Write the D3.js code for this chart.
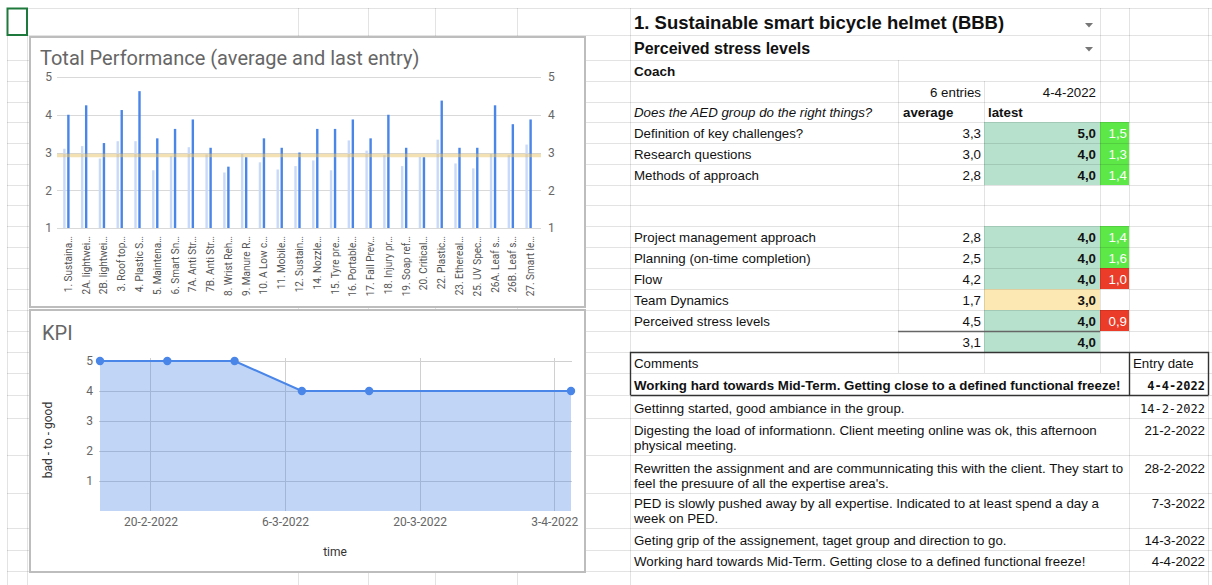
<!DOCTYPE html>
<html>
<head>
<meta charset="utf-8">
<script src="https://cdn.jsdelivr.net/npm/d3@7"></script>
<style>
  html, body { margin: 0; padding: 0; background: #fff; }
  svg { display: block; font-family: "Liberation Sans", Arial, sans-serif; }
</style>
</head>
<body>
<svg id="sheet" width="1212" height="585"></svg>
<script>
// ---------- Total performance per project ----------
const projects = [
  "1. Sustaina…", "2A. lightwei…", "2B. lightwei…", "3. Roof top…", "4. Plastic S…",
  "5. Maintena…", "6. Smart Sn…", "7A. Anti Str…", "7B. Anti Str…", "8. Wrist Reh…",
  "9. Manure R…", "10. A Low c…", "11. Mobile…", "12. Sustain…", "14. Nozzle…",
  "15. Tyre pre…", "16. Portable…", "17. Fall Prev…", "18. Injury pr…", "19. Soap ref…",
  "20. Critical…", "22. Plastic…", "23. Ethereal…", "25. UV Spec…", "26A. Leaf s…",
  "26B. Leaf s…", "27. Smart le…"
];
const averageScores = [
  3.1, 3.17, 2.84, 3.3, 3.3, 2.53, 2.9, 3.14, 2.95, 2.47,
  2.99, 2.74, 2.55, 2.64, 2.79, 2.53, 3.32, 3.05, 2.93, 2.64,
  2.88, 3.34, 2.71, 2.58, 2.97, 2.93, 3.21
];
const latestScores = [
  4.0, 4.25, 3.25, 4.125, 4.625, 3.375, 3.625, 3.875, 3.125, 2.625,
  2.875, 3.375, 3.125, 3.0, 3.625, 3.625, 3.875, 3.375, 4.0, 3.125,
  2.875, 4.375, 3.125, 3.125, 4.25, 3.75, 3.875
];
const overallAverage = 2.92;
const performanceTicks = [1, 2, 3, 4, 5];

// ---------- KPI over time ----------
const kpiDates = ["2022-02-14T18:00", "2022-02-21T18:00", "2022-02-28T18:00",
                  "2022-03-07T18:00", "2022-03-14T18:00", "2022-04-04T18:00"];
const kpiScores = [5, 5, 5, 4, 4, 4];
const kpiTickDates = ["2022-02-20", "2022-03-06", "2022-03-20", "2022-04-03"];
const kpiTicks = [1, 2, 3, 4, 5];

// ---------- Scorecard ----------
const groupTitle = "1. Sustainable smart bicycle helmet (BBB)";
const selectedCriterion = "Perceived stress levels";
const coachLabel = "Coach";
const entryCountLabel = "6 entries";
const latestDateLabel = "4-4-2022";
const questionLabel = "Does the AED group do the right things?";
const criteria = [
  "Definition of key challenges?", "Research questions", "Methods of approach",
  "Project management approach", "Planning (on-time completion)", "Flow",
  "Team Dynamics", "Perceived stress levels"
];
const criteriaAverage = [3.3, 3.0, 2.8, 2.8, 2.5, 4.2, 1.7, 4.5];
const criteriaLatest  = [5.0, 4.0, 4.0, 4.0, 4.0, 4.0, 3.0, 4.0];
const criteriaRatio   = [1.5, 1.3, 1.4, 1.4, 1.6, 1.0, null, 0.9];
const ratioTrend      = ["up", "up", "up", "up", "up", "down", null, "down"];
const totalAverage = 3.1;
const totalLatest = 4.0;

const latestComment = "Working hard towards Mid-Term. Getting close to a defined functional freeze!";
const latestCommentDate = "4-4-2022";
const commentLines = [
  ["Gettinng started, good ambiance in the group."],
  ["Digesting the load of informationn. Client meeting online was ok, this afternoon", "physical meeting."],
  ["Rewritten the assignment and are communnicating this with the client. They start to", "feel the presuure of all the expertise area's."],
  ["PED is slowly pushed away by all expertise. Indicated to at least spend a day a", "week on PED."],
  ["Geting grip of the assignement, taget group and direction to go."],
  ["Working hard towards Mid-Term. Getting close to a defined functional freeze!"]
];
const commentDates = ["14-2-2022", "21-2-2022", "28-2-2022", "7-3-2022", "14-3-2022", "4-4-2022"];

// ---------- sheet layout ----------
const rowLines = [8, 35, 60, 81, 102, 122, 143, 164, 185, 205, 226, 247, 268, 289, 310,
                  331, 352, 373, 395, 418, 455, 493, 528, 550, 571];
const colSegments = [
  [7, 8, 585], [27, 8, 585], [298, 8, 585], [368, 8, 585], [435, 8, 585], [517, 8, 585],
  [630, 8, 585], [898, 60, 373], [984, 81, 373], [1100, 8, 373], [1129, 8, 585], [1208, 8, 585]
];
const criteriaRows = [5, 6, 7, 10, 11, 12, 13, 14];
const totalRow = 15;
const commentRows = [18, 19, 20, 21, 22, 23];

const fmt1 = v => v.toFixed(1).replace(".", ",");

const svg = d3.select("#sheet");
svg.append("rect").attr("width", 1212).attr("height", 585).attr("fill", "#fff");

// cell fills
const fills = svg.append("g");
criteriaRows.forEach((r, i) => {
  const y0 = rowLines[r], y1 = rowLines[r + 1];
  fills.append("rect").attr("x", 984).attr("y", y0).attr("width", 116).attr("height", y1 - y0)
    .attr("fill", criteriaLatest[i] >= 3.5 ? "#b7e1cd" : "#fce8b2");
  if (criteriaRatio[i] !== null) {
    fills.append("rect").attr("x", 1100).attr("y", y0).attr("width", 29).attr("height", y1 - y0)
      .attr("fill", ratioTrend[i] === "up" ? "#5ee848" : "#ea3c28");
  }
});
fills.append("rect").attr("x", 984).attr("y", rowLines[totalRow]).attr("width", 116)
  .attr("height", rowLines[totalRow + 1] - rowLines[totalRow]).attr("fill", "#b7e1cd");

// gridlines
const grid = svg.append("g").attr("stroke", "#000").attr("stroke-opacity", 0.11).attr("stroke-width", 1);
rowLines.forEach(y => grid.append("line").attr("x1", 7).attr("x2", 1212)
  .attr("y1", y + 0.5).attr("y2", y + 0.5));
colSegments.forEach(([x, y0, y1]) => grid.append("line").attr("x1", x + 0.5).attr("x2", x + 0.5)
  .attr("y1", y0).attr("y2", y1));

// borders of the total row and the comments box
const borders = svg.append("g").attr("fill", "none");
borders.append("line").attr("x1", 898).attr("x2", 1100).attr("y1", 331.5).attr("y2", 331.5)
  .attr("stroke", "#666").attr("stroke-width", 1.5);
borders.append("path").attr("d", "M630.5,395 V352.5 H1208.5 V395 M1129.5,352.5 V395 M630.5,395.5 H1208.5")
  .attr("stroke", "#333").attr("stroke-width", 1.4);

// selected cell
svg.append("rect").attr("x", 7.5).attr("y", 8.5).attr("width", 19.5).attr("height", 26.5)
  .attr("fill", "none").attr("stroke", "#1e7a3c").attr("stroke-width", 2);

// ---------- scorecard text ----------
const text = svg.append("g").attr("fill", "#111").attr("font-size", 13.3);
const put = (x, y, s, o = {}) => text.append("text").attr("x", x).attr("y", y)
  .attr("text-anchor", o.anchor || "start").attr("font-weight", o.bold ? "bold" : null)
  .attr("font-style", o.italic ? "italic" : null).attr("font-size", o.size || null)
  .attr("font-family", o.family || null).attr("fill", o.fill || null).text(s);

put(634, 29, groupTitle, { bold: true, size: 18.5 });
put(634, 54, selectedCriterion, { bold: true, size: 16 });
put(634, 76, coachLabel, { bold: true, size: 13.5 });
put(981, 97, entryCountLabel, { anchor: "end" });
put(1096, 97, latestDateLabel, { anchor: "end" });
put(634, 117, questionLabel, { italic: true });
put(903, 117, "average", { bold: true });
put(988, 117, "latest", { bold: true });

// dropdown markers
[[1089, 23], [1089, 47]].forEach(([x, y]) =>
  svg.append("path").attr("d", `M${x - 4},${y} h8 l-4,4.5 z`).attr("fill", "#777"));

criteriaRows.forEach((r, i) => {
  const yb = rowLines[r + 1] - 5;
  put(634, yb, criteria[i]);
  put(981, yb, fmt1(criteriaAverage[i]), { anchor: "end" });
  put(1096, yb, fmt1(criteriaLatest[i]), { anchor: "end", bold: true });
  if (criteriaRatio[i] !== null) put(1127, yb, fmt1(criteriaRatio[i]), { anchor: "end", fill: "#fff" });
});
put(981, rowLines[totalRow + 1] - 5, fmt1(totalAverage), { anchor: "end" });
put(1096, rowLines[totalRow + 1] - 5, fmt1(totalLatest), { anchor: "end", bold: true });

put(634, 368, "Comments");
put(1133, 368, "Entry date");
put(634, 390, latestComment, { bold: true });
put(1205, 390, latestCommentDate, { anchor: "end", bold: true, size: 12, family: "DejaVu Sans Mono" });

commentRows.forEach((r, i) => {
  const lines = commentLines[i];
  const yBottom = rowLines[r + 1] - 5;
  const yFirst = yBottom - (lines.length - 1) * 15.5;
  lines.forEach((l, j) => put(634, yFirst + j * 15.5, l));
  put(1205, yFirst, commentDates[i], i === 0
    ? { anchor: "end", size: 12, family: "DejaVu Sans Mono" }
    : { anchor: "end" });
});

// ---------- chart: Total Performance ----------
const perf = svg.append("g").attr("font-family", "Roboto, sans-serif");
perf.append("rect").attr("x", 30).attr("y", 37).attr("width", 555).attr("height", 270)
  .attr("fill", "#fff").attr("stroke", "#bdbdbd").attr("stroke-width", 2);
perf.append("text").attr("x", 40).attr("y", 65).attr("font-size", 20).attr("fill", "#666")
  .text("Total Performance (average and last entry)");

const px = d3.scaleBand().domain(projects).range([57.5, 537.5]);
const py = d3.scaleLinear().domain([1, 5]).range([228, 77]);

perf.append("g").selectAll("line").data(performanceTicks).join("line")
  .attr("x1", 57).attr("x2", 541).attr("y1", d => Math.round(py(d)) + 0.5).attr("y2", d => Math.round(py(d)) + 0.5)
  .attr("stroke", "#d9d9d9");

const styleAxis = g => {
  g.select(".domain").remove();
  g.selectAll(".tick line").remove();
  g.selectAll("text").attr("fill", "#666").attr("font-size", 12).attr("font-family", "Roboto, sans-serif");
};
perf.append("g").attr("transform", "translate(52,0)")
  .call(d3.axisLeft(py).tickValues(performanceTicks).tickSize(0).tickPadding(0).tickFormat(d3.format("d")))
  .call(styleAxis);
perf.append("g").attr("transform", "translate(548,0)")
  .call(d3.axisRight(py).tickValues(performanceTicks).tickSize(0).tickPadding(0).tickFormat(d3.format("d")))
  .call(styleAxis);

const bw = 2.4;
perf.append("g").selectAll("rect").data(projects).join("rect")
  .attr("x", (d, i) => px(d) + px.bandwidth() / 2 - 2 - bw / 2)
  .attr("y", (d, i) => py(averageScores[i]))
  .attr("width", bw).attr("height", (d, i) => py(1) - py(averageScores[i]))
  .attr("fill", "#c9daf8");
perf.append("g").selectAll("rect").data(projects).join("rect")
  .attr("x", (d, i) => px(d) + px.bandwidth() / 2 + 2 - bw / 2)
  .attr("y", (d, i) => py(latestScores[i]))
  .attr("width", bw).attr("height", (d, i) => py(1) - py(latestScores[i]))
  .attr("fill", "#4a86e8");

perf.append("line").attr("x1", 57).attr("x2", 541)
  .attr("y1", py(overallAverage)).attr("y2", py(overallAverage))
  .attr("stroke", "#e8c46a").attr("stroke-opacity", 0.5).attr("stroke-width", 3.5);

perf.append("g").selectAll("text").data(projects).join("text")
  .attr("transform", d => `translate(${px(d) + px.bandwidth() / 2 + 2},236) rotate(-90)`)
  .attr("text-anchor", "end").attr("dy", "0.35em")
  .attr("font-size", 10).attr("fill", "#555").text(d => d);

// ---------- chart: KPI ----------
const kpi = svg.append("g").attr("font-family", "Roboto, sans-serif");
kpi.append("rect").attr("x", 30).attr("y", 310).attr("width", 555).attr("height", 262)
  .attr("fill", "#fff").attr("stroke", "#bdbdbd").attr("stroke-width", 2);
kpi.append("text").attr("x", 42).attr("y", 340).attr("font-size", 20).attr("fill", "#666").text("KPI");

const parse = d3.isoParse;
const kd = kpiDates.map((d, i) => ({ date: parse(d), v: kpiScores[i] }));
const kx = d3.scaleTime().domain([kd[0].date, kd[kd.length - 1].date]).range([100, 571]);
const ky = d3.scaleLinear().domain([0, 5]).range([511, 361]);
const tickDates = kpiTickDates.map(d => d3.timeParse("%Y-%m-%d")(d));

const kgrid = kpi.append("g").attr("stroke", "#d0d0d0");
kgrid.selectAll(".h").data(kpiTicks).join("line").attr("class", "h")
  .attr("x1", 99).attr("x2", 572).attr("y1", d => Math.round(ky(d)) + 0.5).attr("y2", d => Math.round(ky(d)) + 0.5);
kgrid.selectAll(".v").data(tickDates).join("line").attr("class", "v")
  .attr("x1", d => Math.round(kx(d)) + 0.5).attr("x2", d => Math.round(kx(d)) + 0.5)
  .attr("y1", 358).attr("y2", 511);

kpi.append("path").datum(kd)
  .attr("d", d3.area().x(d => kx(d.date)).y0(ky(0)).y1(d => ky(d.v)))
  .attr("fill", "#4a86e8").attr("fill-opacity", 0.34);
kpi.append("path").datum(kd)
  .attr("d", d3.line().x(d => kx(d.date)).y(d => ky(d.v)))
  .attr("fill", "none").attr("stroke", "#4a86e8").attr("stroke-width", 2);
kpi.append("g").selectAll("circle").data(kd).join("circle")
  .attr("cx", d => kx(d.date)).attr("cy", d => ky(d.v)).attr("r", 4.2).attr("fill", "#4a86e8");

kpi.append("g").attr("transform", "translate(93,0)")
  .call(d3.axisLeft(ky).tickValues(kpiTicks).tickSize(0).tickPadding(0).tickFormat(d3.format("d")))
  .call(styleAxis);
kpi.append("g").attr("transform", "translate(0,517)")
  .call(d3.axisBottom(kx).tickValues(tickDates).tickSize(0).tickPadding(0)
    .tickFormat(d => `${d.getDate()}-${d.getMonth() + 1}-${d.getFullYear()}`))
  .call(styleAxis);

kpi.append("text").attr("x", 335).attr("y", 556).attr("text-anchor", "middle")
  .attr("font-size", 12).attr("fill", "#333").text("time");
kpi.append("text").attr("transform", "translate(52,440) rotate(-90)").attr("text-anchor", "middle")
  .attr("font-size", 12).attr("fill", "#333").text("bad - to - good");
</script>
</body>
</html>
